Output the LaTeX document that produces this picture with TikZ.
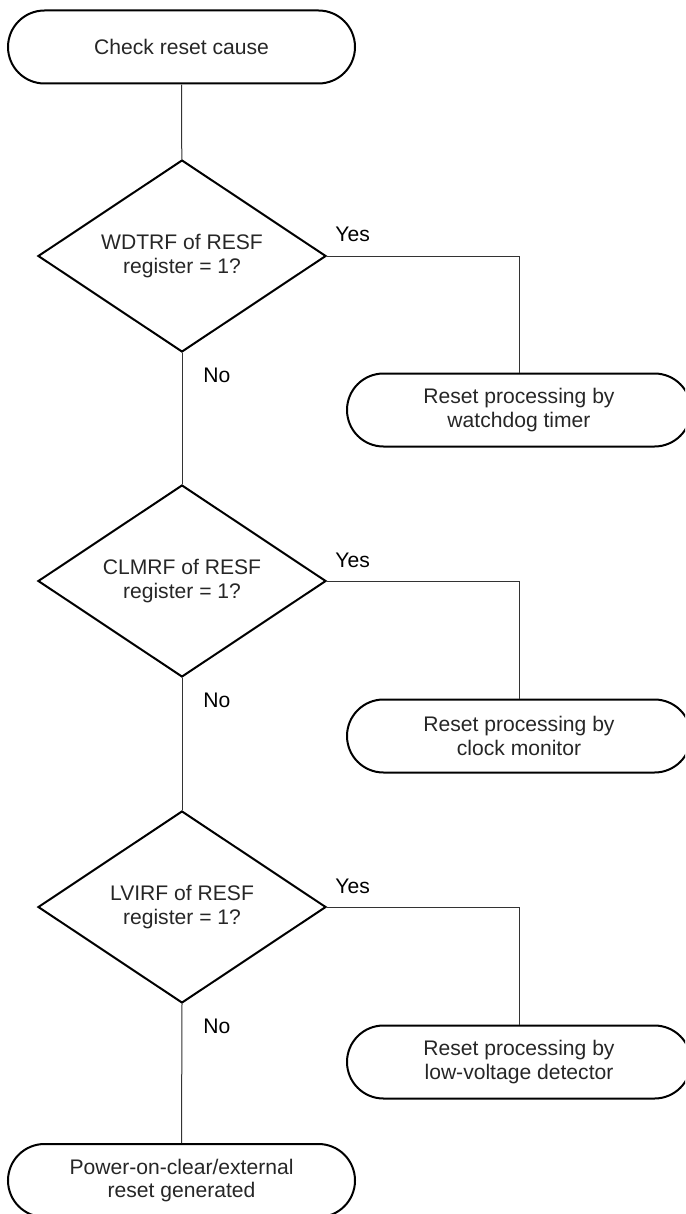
\documentclass[tikz,border=0pt]{standalone}
\usepackage{fontspec}
\setmainfont{Liberation Sans}
\usetikzlibrary{shapes.geometric,shapes.misc}
\tikzset{
  term/.style={draw=black, line width=1pt, rounded rectangle, rounded rectangle arc length=180,
    minimum height=36.5pt, inner sep=0pt, align=center, text=black!85,
    font=\fontsize{10.55}{11.7}\selectfont},
  decide/.style={draw=black, line width=1pt, diamond, aspect=1.5, minimum width=144pt,
    minimum height=96pt, inner sep=0pt, align=center, text=black!85,
    font=\fontsize{10.55}{12.2}\selectfont},
  conn/.style={draw=black!80, line width=0.5pt},
  lbl/.style={inner sep=0pt, text=black, font=\fontsize{10.55}{11.7}\selectfont}
}
\begin{document}
\begin{tikzpicture}[x=0.5pt,y=-0.5pt]
\useasboundingbox (0,0) rectangle (685,1214);
\clip (0,0) rectangle (685,1214);
\node[term, minimum width=173.5pt] (t0) at (181.5,47) {Check reset cause};
\node[decide] (d1) at (182,256) {WDTRF of RESF\\register = 1?};
\node[term, minimum width=172pt] (t1) at (519,410) {Reset processing by\\watchdog timer};
\node[decide] (d2) at (182,581) {CLMRF of RESF\\register = 1?};
\node[term, minimum width=172pt] (t2) at (519,736) {Reset processing by\\clock monitor};
\node[decide] (d3) at (182,907) {LVIRF of RESF\\register = 1?};
\node[term, minimum width=172pt] (t3) at (519,1062) {Reset processing by\\low-voltage detector};
\node[term, minimum width=173.5pt] (t4) at (181.5,1180.5) {Power-on-clear/external\\reset generated};

\draw[conn] (t0) -- (d1);
\draw[conn] (d1.south) -- (d2.north);
\draw[conn] (d2.south) -- (d3.north);
\draw[conn] (d3.south) -- (t4.north);
\draw[conn] (d1.east) -| (t1.north);
\draw[conn] (d2.east) -| (t2.north);
\draw[conn] (d3.east) -| (t3.north);

\node[lbl, anchor=base west] (y1) at ([shift={(8,-14)}]d1.east) {Yes};
\node[lbl, anchor=base west] (y2) at ([shift={(8,-14)}]d2.east) {Yes};
\node[lbl, anchor=base west] (y3) at ([shift={(8,-14)}]d3.east) {Yes};
\node[lbl, anchor=base west] (n1) at ([shift={(21,29)}]d1.south) {No};
\node[lbl, anchor=base west] (n2) at ([shift={(21,29)}]d2.south) {No};
\node[lbl, anchor=base west] (n3) at ([shift={(21,29)}]d3.south) {No};
\end{tikzpicture}
\end{document}
